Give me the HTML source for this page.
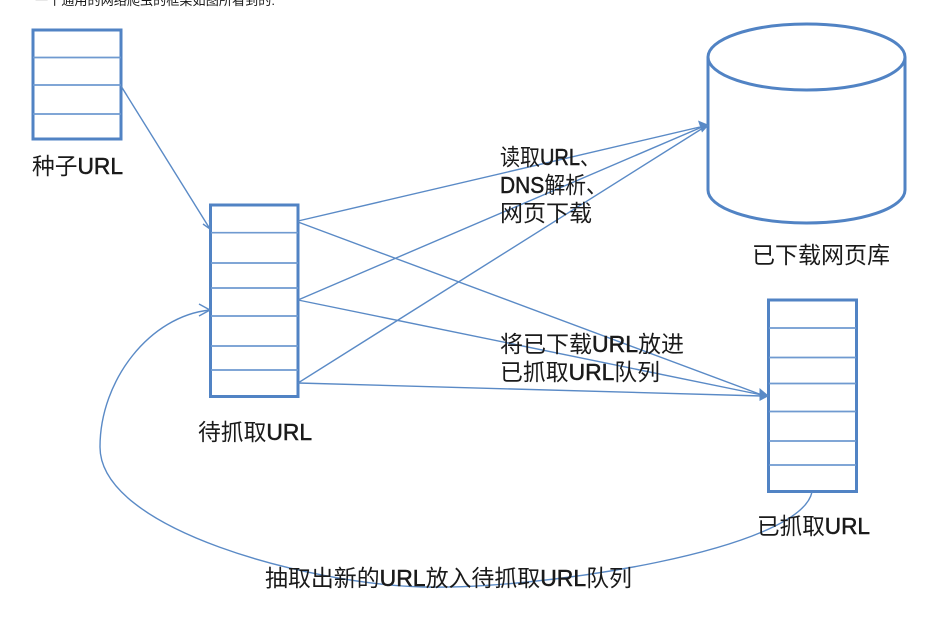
<!DOCTYPE html>
<html lang="zh">
<head>
<meta charset="utf-8">
<style>
html,body{margin:0;padding:0;background:#fff;width:948px;height:621px;overflow:hidden}
svg{display:block}
text{font-family:"Liberation Sans","Noto Sans CJK SC",sans-serif;fill:#1a1a1a;font-size:23px}
tspan{stroke:#1a1a1a;stroke-width:.5}
.b{fill:#fff;stroke:#5183c4;stroke-width:3}
.d{stroke:#6f9ad0;stroke-width:1.7;fill:none}
.l{stroke:#5a8ac6;stroke-width:1.4;fill:none}
.a{fill:#5a8ac6;stroke:none}
</style>
</head>
<body>
<svg width="948" height="621" viewBox="0 0 948 621" xmlns="http://www.w3.org/2000/svg">
<text x="35" y="5" style="font-size:13.4px" textLength="240" lengthAdjust="spacingAndGlyphs">一个通用的网络爬虫的框架如图所看到的:</text>

<rect class="b" x="33" y="30" width="88" height="109"/>
<path class="d" d="M33 57.500H121M33 85H121M33 114H121"/>

<rect class="b" x="210.500" y="205" width="87.500" height="191.500"/>
<path class="d" d="M211 232.700H298M211 263H298M211 288H298M211 316H298M211 346H298M211 370H298"/>

<rect class="b" x="768.500" y="300" width="88" height="191.500"/>
<path class="d" d="M769 328H856M769 357.500H856M769 383.500H856M769 411.500H856M769 441H856M769 465H856"/>

<path d="M708 57 A98.500 33 0 0 1 905 57 V190 A98.500 33 0 0 1 708 190 Z" fill="#fff" stroke="#5183c4" stroke-width="3"/>
<path d="M708 57 A98.500 33 0 0 0 905 57" fill="none" stroke="#5183c4" stroke-width="3"/>

<path class="l" d="M121 86L210 229"/>
<path class="l" d="M203 224L210 229L209.500 220"/>

<path class="l" d="M298 221L700 127"/>
<path class="l" d="M298 300L702 127"/>
<path class="l" d="M298 383L703 128"/>
<path class="a" d="M709 125L698 120.500L702 132.500Z"/>

<path class="l" d="M298 222L762 395"/>
<path class="l" d="M298 300L762 395"/>
<path class="l" d="M298 383L762 396"/>
<path class="a" d="M769 396L759.500 388L759.500 401Z"/>

<path class="l" d="M812 492C800 550 540 590 423 587C310 584 100 530 100 447C100 380 150 316 210 310"/>
<path class="l" d="M199 304L210 310L199 316"/>

<text x="32" y="174" textLength="91" lengthAdjust="spacingAndGlyphs">种子<tspan>URL</tspan></text>
<text x="198" y="440" textLength="114" lengthAdjust="spacingAndGlyphs">待抓取<tspan>URL</tspan></text>
<text x="757" y="534" textLength="113" lengthAdjust="spacingAndGlyphs">已抓取<tspan>URL</tspan></text>
<text x="752" y="263" textLength="138" lengthAdjust="spacingAndGlyphs">已下载网页库</text>
<text x="500" y="165" textLength="100" lengthAdjust="spacingAndGlyphs">读取<tspan>URL</tspan>、</text>
<text x="500" y="193" textLength="107" lengthAdjust="spacingAndGlyphs"><tspan>DNS</tspan>解析、</text>
<text x="500" y="221" textLength="92" lengthAdjust="spacingAndGlyphs">网页下载</text>
<text x="500" y="352" textLength="184" lengthAdjust="spacingAndGlyphs">将已下载<tspan>URL</tspan>放进</text>
<text x="500" y="380" textLength="160" lengthAdjust="spacingAndGlyphs">已抓取<tspan>URL</tspan>队列</text>
<text x="265" y="586" textLength="367" lengthAdjust="spacingAndGlyphs">抽取出新的<tspan>URL</tspan>放入待抓取<tspan>URL</tspan>队列</text>
</svg>
</body>
</html>
